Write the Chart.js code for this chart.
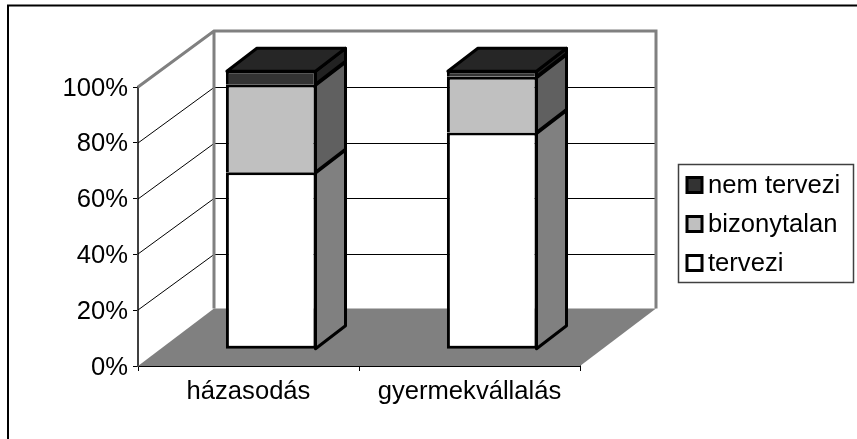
<!DOCTYPE html>
<html>
<head>
<meta charset="utf-8">
<style>
html,body{margin:0;padding:0;background:#fff;}
#wrap{position:absolute;left:0;top:0;width:857px;height:439px;}
</style>
<script src="https://cdn.jsdelivr.net/npm/chart.js@4"></script>
</head>
<body>
<div id="wrap"><canvas id="c" width="857" height="439"></canvas></div>
<script>
const categories = ['házasodás', 'gyermekvállalás'];
const tervezi = [63.5, 77.7];
const bizonytalan = [31.5, 20.0];
const nemTervezi = [5.0, 2.3];
const yTicks = [0, 20, 40, 60, 80, 100];

const FONT = 'Liberation Sans, Arial, sans-serif';
const FS = 25.6;
const WALL = {dx: 76, dy: -56, floorDy: -57.5};
const BAR_OFF = {dx: 22.7, dy: -16.7};
const BAR_DEPTH = {dx: 30, dy: -23};
const SIDE = ['#808080', '#606060', '#222222'];
const TOP = '#262626';

const scene = {
  id: 'scene',
  beforeDatasetsDraw(chart) {
    const {ctx, chartArea: a, scales: {y}} = chart;
    const b = a.bottom, l = a.left, r = a.right, t = y.getPixelForValue(100);
    ctx.save();
    ctx.fillStyle = '#808080';
    ctx.beginPath();
    ctx.moveTo(l, b); ctx.lineTo(r, b);
    ctx.lineTo(r + WALL.dx, b + WALL.floorDy); ctx.lineTo(l + WALL.dx, b + WALL.floorDy);
    ctx.closePath(); ctx.fill();
    ctx.strokeStyle = '#000'; ctx.lineWidth = 1;
    yTicks.forEach(v => {
      if (v === 0 || v === 100) return;
      const p = Math.round(y.getPixelForValue(v));
      ctx.beginPath();
      ctx.moveTo(l, p);
      ctx.lineTo(l + WALL.dx, p + WALL.dy + 0.5);
      ctx.lineTo(r + WALL.dx, p + WALL.dy + 0.5);
      ctx.stroke();
    });
    ctx.strokeStyle = '#808080'; ctx.lineWidth = 3; ctx.lineJoin = 'miter';
    ctx.beginPath();
    ctx.moveTo(l, t);
    ctx.lineTo(l + WALL.dx, t + WALL.dy);
    ctx.lineTo(r + WALL.dx, t + WALL.dy);
    ctx.lineTo(r + WALL.dx, b + WALL.floorDy);
    ctx.moveTo(l + WALL.dx, t + WALL.dy);
    ctx.lineTo(l + WALL.dx, b + WALL.floorDy);
    ctx.stroke();
    ctx.restore();
    ctx.save();
    ctx.translate(BAR_OFF.dx, BAR_OFF.dy);
  },
  afterDatasetsDraw(chart) {
    const {ctx} = chart;
    ctx.strokeStyle = '#000'; ctx.lineWidth = 3; ctx.lineJoin = 'round';
    const n = chart.data.datasets.length;
    chart.data.datasets.forEach((ds, i) => {
      chart.getDatasetMeta(i).data.forEach(bar => {
        const R = bar.x + bar.width / 2 - 1, L = bar.x - bar.width / 2 + 1;
        const T = bar.y + 1, B = bar.base;
        ctx.fillStyle = SIDE[i];
        ctx.beginPath();
        ctx.moveTo(R, B); ctx.lineTo(R + BAR_DEPTH.dx, B + BAR_DEPTH.dy);
        ctx.lineTo(R + BAR_DEPTH.dx, T + BAR_DEPTH.dy); ctx.lineTo(R, T);
        ctx.closePath(); ctx.fill(); ctx.stroke();
        if (i === n - 1) {
          ctx.fillStyle = TOP;
          ctx.beginPath();
          ctx.moveTo(L, T); ctx.lineTo(R, T);
          ctx.lineTo(R + BAR_DEPTH.dx, T + BAR_DEPTH.dy);
          ctx.lineTo(L + BAR_DEPTH.dx, T + BAR_DEPTH.dy);
          ctx.closePath(); ctx.fill(); ctx.stroke();
        }
      });
    });
    ctx.restore();
  },
  afterDraw(chart) {
    const {ctx} = chart;
    ctx.save();
    // outer frame: only the top and left edges are inside the picture
    ctx.strokeStyle = '#000'; ctx.lineWidth = 2;
    ctx.beginPath();
    ctx.moveTo(8, 439); ctx.lineTo(8, 5.5); ctx.lineTo(857, 5.5);
    ctx.stroke();
    // legend box
    ctx.strokeStyle = '#404040'; ctx.lineWidth = 1.5;
    ctx.strokeRect(678.5, 164.5, 175, 118);
    const rows = chart.data.datasets.slice().reverse();
    ctx.font = FS + 'px ' + FONT;
    ctx.textBaseline = 'middle'; ctx.textAlign = 'left';
    rows.forEach((ds, i) => {
      const cy = 185 + i * 39;
      ctx.fillStyle = ds.backgroundColor;
      ctx.strokeStyle = '#000'; ctx.lineWidth = 3;
      ctx.fillRect(687, cy - 7.5, 15, 15);
      ctx.strokeRect(687, cy - 7.5, 15, 15);
      ctx.fillStyle = '#000';
      ctx.fillText(ds.label, 708, cy + 1);
    });
    ctx.restore();
  }
};

new Chart(document.getElementById('c'), {
  type: 'bar',
  data: {
    labels: categories,
    datasets: [
      {label: 'tervezi', data: tervezi, backgroundColor: '#FFFFFF', borderSkipped: false},
      {label: 'bizonytalan', data: bizonytalan, backgroundColor: '#C0C0C0', borderSkipped: 'bottom'},
      {label: 'nem tervezi', data: nemTervezi, backgroundColor: '#333333', borderSkipped: 'bottom'}
    ].map(d => Object.assign(d, {borderColor: '#000', borderWidth: 3, barPercentage: 0.41, categoryPercentage: 1}))
  },
  options: {
    responsive: false,
    animation: false,
    layout: {padding: {left: 0, top: 87, right: 277, bottom: 0}},
    plugins: {legend: {display: false}, tooltip: {enabled: false}},
    scales: {
      x: {
        stacked: true,
        afterFit: s => { s.height = 73; },
        grid: {drawOnChartArea: false, color: '#000', tickLength: 5, offset: true},
        border: {color: '#000', width: 2},
        ticks: {color: '#000', font: {family: FONT, size: FS}, padding: 6, maxRotation: 0}
      },
      y: {
        stacked: true,
        min: 0, max: 100,
        afterFit: s => { s.width = 138; },
        afterBuildTicks: s => { s.ticks = yTicks.map(v => ({value: v})); },
        grid: {drawOnChartArea: false, color: '#000', tickLength: 5},
        border: {color: '#404040', width: 2},
        ticks: {color: '#000', font: {family: FONT, size: FS}, padding: 5, labelOffset: 1.5, callback: v => v + '%'}
      }
    }
  },
  plugins: [scene]
});
</script>
</body>
</html>
